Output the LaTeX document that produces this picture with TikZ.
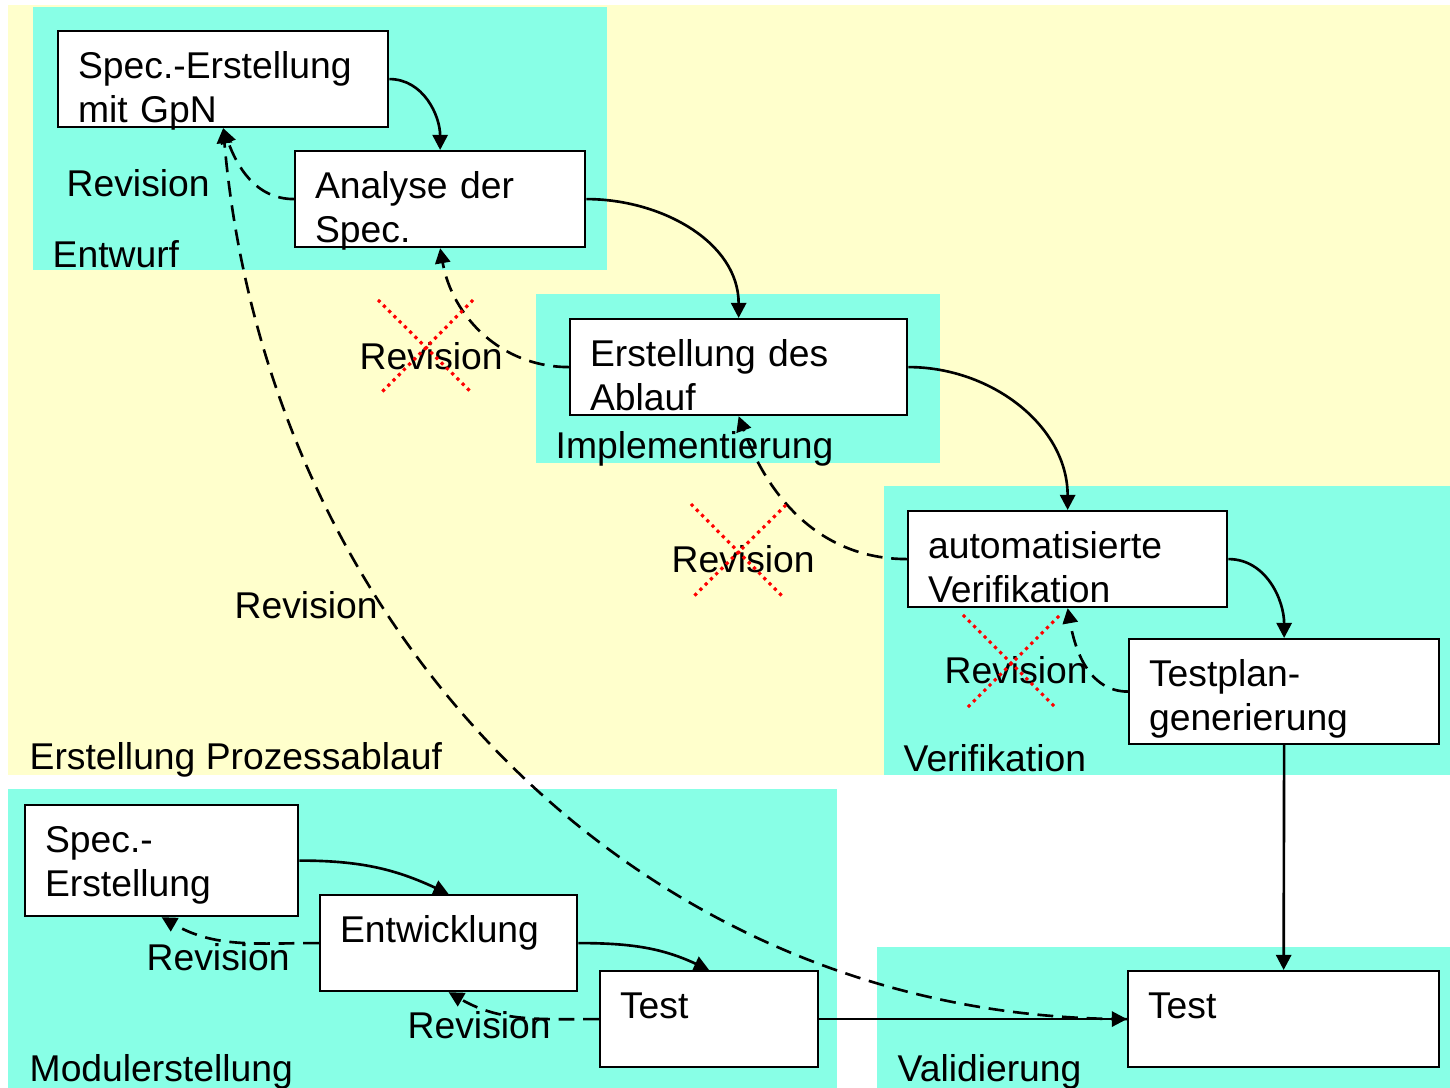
\documentclass[tikz,border=0pt]{standalone}
\usepackage{fontspec}
\setmainfont{Liberation Sans}
\usepackage{tikz}
\usetikzlibrary{arrows.meta}
\definecolor{phase}{HTML}{88FFE6}
\definecolor{flow}{HTML}{FFFFCC}

\begin{document}
\begin{tikzpicture}[x=0.01cm, y=-0.01cm,
    every node/.style={font=\fontsize{10.6pt}{12.5pt}\selectfont},
    box/.style={draw, fill=white, line width=0.6pt, anchor=north west, align=left,
      inner xsep=0.2cm, inner ysep=0pt, text height=0.47cm, text depth=0.49cm},
    lbl/.style={anchor=base west, inner sep=0pt},
    go/.style={line width=0.75pt, -{Triangle[length=4.3pt,width=4.3pt]}},
    back/.style={go, dash pattern=on 4.5pt off 2.5pt},
    nope/.style={red, line width=0.9pt, dash pattern=on 0.9pt off 1.2pt}]
  \useasboundingbox (0,0) rectangle (1450,1088);

  % phases
  \fill[flow] (8,5) rectangle (1450,775);
  \fill[phase] (33,7) rectangle (607,270);
  \fill[phase] (536,294) rectangle (940,463);
  \fill[phase] (884,486) rectangle (1450,775);
  \fill[phase] (8,789) rectangle (837,1088);
  \fill[phase] (877,947) rectangle (1450,1088);

  % steps
  \node[box, text width=2.9cm] (spec) at (57,30) {Spec.-Erstellung\\mit GpN};
  \node[box, text width=2.5cm] (analyse) at (294,150) {Analyse der\\Spec.};
  \node[box, text width=2.97cm] (ablauf) at (569,318) {Erstellung des\\Ablauf};
  \node[box, text width=2.79cm] (autover) at (907,510) {automatisierte\\Verifikation};
  \node[box, text width=2.7cm, text depth=0.58cm] (testplan) at (1128,638) {Testplan-\\generierung};
  \node[box, text width=2.33cm, text depth=0.64cm] (mspec) at (24,804) {Spec.-\\Erstellung};
  \node[box, text width=2.17cm] (entw) at (319,894) {Entwicklung};
  \node[box, text width=1.78cm] (mtest) at (599,970) {Test};
  \node[box, text width=2.71cm] (vtest) at (1127,970) {Test};

  % labels
  \node[lbl] (rev1) at (66,197) {Revision};
  \node[lbl] (entwurf) at (52,268) {Entwurf};
  \node[lbl] (rev2) at (359,370) {Revision};
  \node[lbl] (impl) at (555,459) {Implementierung};
  \node[lbl] (rev3) at (671,573) {Revision};
  \node[lbl] (rev4) at (234,619) {Revision};
  \node[lbl] (rev5) at (944,684) {Revision};
  \node[lbl] (prozess) at (29,770) {Erstellung Prozessablauf};
  \node[lbl] (verif) at (903,772) {Verifikation};
  \node[lbl] (rev6) at (146,971) {Revision};
  \node[lbl] (rev7) at (407,1039) {Revision};
  \node[lbl] (modul) at (29,1082) {Modulerstellung};
  \node[lbl] (valid) at (897,1082) {Validierung};

  % forward
  \draw[go] (spec.east) to[out=0,in=90] (analyse.north);
  \draw[go] (analyse.east) to[out=0,in=90] (ablauf.north);
  \draw[go] (ablauf.east) to[out=0,in=90] (autover.north);
  \draw[go] (autover.east) to[out=0,in=90] (testplan.north);
  \draw[go] (testplan.south) -- (vtest.north);
  \draw[go] (mspec.east) to[out=0,in=155] (entw.north);
  \draw[go] (entw.east) to[out=0,in=155] (mtest.north);
  \draw[go] (mtest.east) -- (vtest.west);

  % revisions
  \draw[back] (analyse.west) to[out=180,in=-70] (spec.south);
  \draw[back] (ablauf.west) to[out=180,in=-80] (analyse.south);
  \draw[back] (autover.west) to[out=180,in=-70] (ablauf.south);
  \draw[back] (testplan.west) to[out=180,in=-80] (autover.south);
  \draw[back] (entw.west) to[out=180,in=-30] (mspec.south);
  \draw[back] (mtest.west) to[out=180,in=-30] (entw.south);
  \draw[back] (vtest.west) to[out=180,in=-85] (spec.south);

  % struck out
  \draw[nope] (378,300) -- (472,393) (473,300) -- (381,393);
  \draw[nope] (691,504) -- (783,597) (786,505) -- (693,597);
  \draw[nope] (963,615) -- (1056,708) (1059,616) -- (967,708);
\end{tikzpicture}
\end{document}
